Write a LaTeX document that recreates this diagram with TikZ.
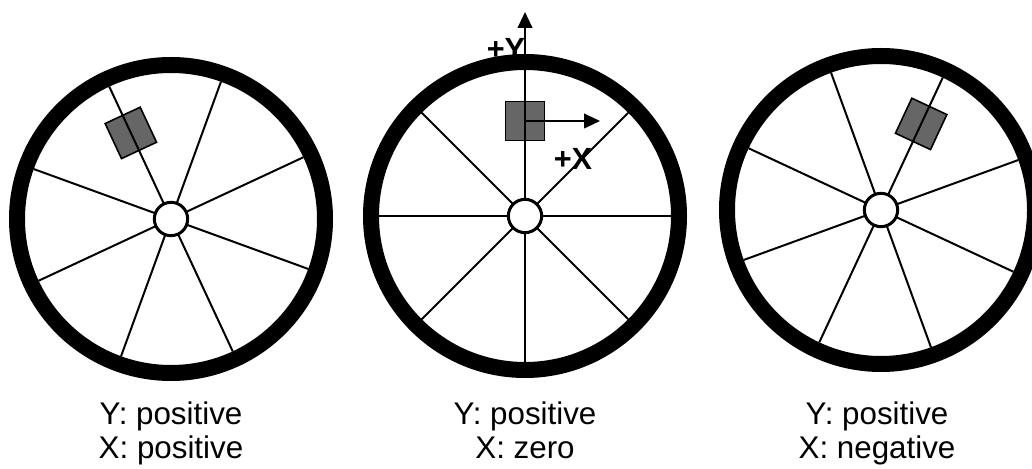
\documentclass[tikz,border=0pt]{standalone}
\usepackage{fontspec}
\setmainfont{Liberation Sans}
\usetikzlibrary{arrows.meta}
\definecolor{boxgray}{RGB}{102,102,102}
\tikzset{
  rim/.style={line width=12pt},
  spoke/.style={line width=1.5pt},
  hub/.style={circle,draw,fill=white,line width=2.25pt,minimum size=25pt,inner sep=0pt},
  sensor/.style={rectangle,draw,fill=boxgray,line width=1.2pt,minimum size=29pt,inner sep=0pt},
  caption/.style={font=\fontsize{23.5}{25.5}\selectfont,anchor=base,inner sep=0pt},
  axis/.style={line width=1.5pt,-{Triangle[length=12pt,width=11pt]}},
  axlabel/.style={font=\fontsize{23}{24}\selectfont\bfseries,inner sep=0pt}
}
\begin{document}
\begin{tikzpicture}[x=0.75pt,y=0.75pt]
\useasboundingbox (0,0) rectangle (1032,468);
\node[axlabel] (plusy) at (506,419) {+Y};
% wheels: name / centre / turn of the spokes
\foreach \n/\x/\y/\r in {l/171/249/25, m/525/252/0, r/881/258/-25}{
  \coordinate (\n c) at (\x,\y);
  \path (\n c) ++(90+\r:95) node[sensor,rotate=\r] (\n box) {};
  \foreach \a in {0,45,...,315} \draw[spoke] (\n c) -- ++(\a+\r:146);
  \node[hub] (\n hub) at (\n c) {};
  \draw[rim] (\n c) circle (154);
}
\coordinate (ytip) at (525,456);
\coordinate (xtip) at (600,343);
\draw[axis] (mbox.center) -- (ytip);
\draw[axis] (mbox.center) -- (mbox.center -| xtip);
\node[axlabel] (plusx) at (573,309) {+X};
\node[caption] (ly) at (171,44) {Y: positive};
\node[caption] (lx) at (171,10) {X: positive};
\node[caption] (my) at (525,44) {Y: positive};
\node[caption] (mx) at (525,10) {X: zero};
\node[caption] (ry) at (877,44) {Y: positive};
\node[caption] (rx) at (877,10) {X: negative};
\end{tikzpicture}
\end{document}
